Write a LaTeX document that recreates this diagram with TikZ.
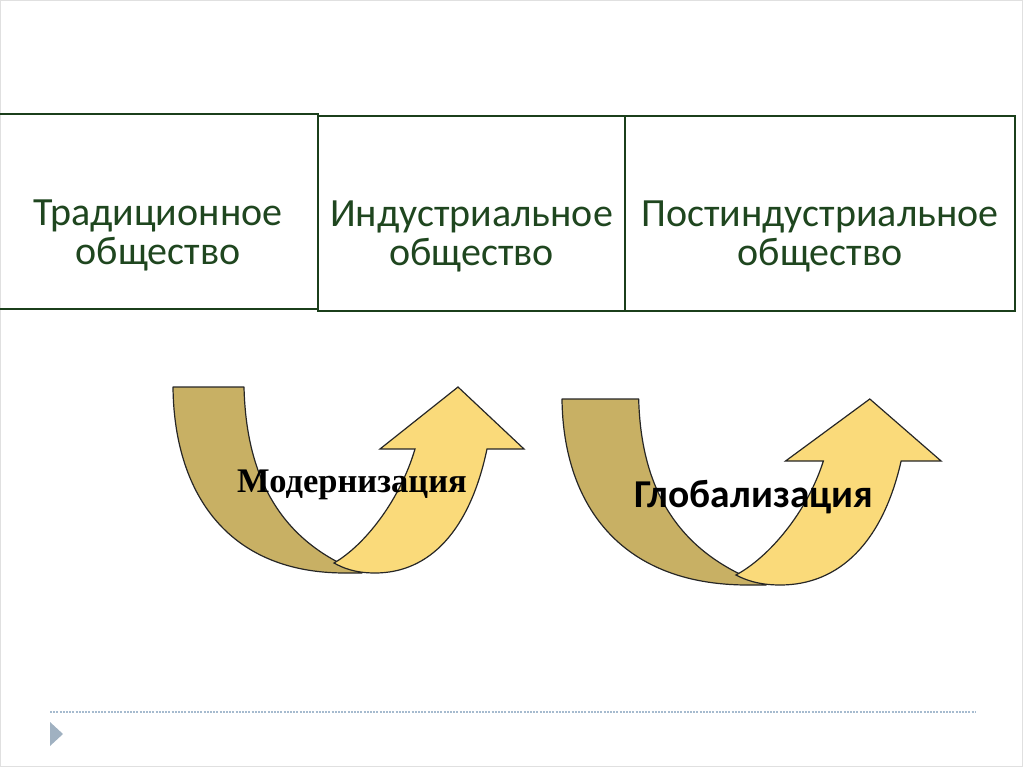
\documentclass[tikz,border=0pt]{standalone}
\usepackage{fontspec}
\setmainfont{Carlito}
\newfontfamily\timesfont{Liberation Serif}
\definecolor{boxgreen}{HTML}{1B3F1B}
\definecolor{textgreen}{HTML}{1F461F}
\definecolor{darktan}{HTML}{C8B064}
\definecolor{lighttan}{HTML}{FADA7A}
\definecolor{footblue}{HTML}{A6BBCF}
\begin{document}
\begin{tikzpicture}[x=1pt, y=-1pt]
  \tikzset{
    box_node/.style={rectangle, draw=boxgreen, line width=2.6pt, inner sep=0pt},
    text_node/.style={align=center, text=textgreen, font=\fontsize{40}{39}\selectfont, inner sep=0pt},
    dark_band/.style={fill=darktan, draw=black!85, line width=1.2pt, line join=round},
    light_band/.style={fill=lighttan, draw=black!85, line width=1.2pt, line join=miter},
    curved_arrow/.pic={
      % dark back part
      \filldraw[dark_band] (0,0) -- (71,0) .. controls (73,83) and (102,153) .. (189,186)
        -- (172,186) .. controls (52,186) and (1,103) .. (0,0) -- cycle;
      % light front part with the head
      \filldraw[light_band] (161,176) .. controls (192,158) and (227,113) .. (242,62)
        -- (207,62) -- (285,0) -- (351,62) -- (314,62)
        .. controls (297,143) and (257,186) .. (202,186)
        .. controls (182,186) and (170,181) .. (161,176) -- cycle;
    }
  }
  \useasboundingbox (0,0) rectangle (1024,767);
  \draw[black!12, line width=0.8pt] (0.5,0.5) rectangle (1022,766);

  % Boxes
  \node[box_node, minimum width=326pt, minimum height=195pt] (trad) at (155,211.5) {};
  \node[box_node, minimum width=307pt, minimum height=195pt] (ind) at (471.5,213.5) {};
  \node[box_node, minimum width=390pt, minimum height=195pt] (post) at (820,213.5) {};

  % Box labels
  \node[text_node] (trad_txt) at ([yshift=-24pt]trad.center -| 158,0) {Традиционное\\общество};
  \node[text_node] (ind_txt) at ([yshift=-23pt]ind.center) {Индустриальное\\общество};
  \node[text_node] (post_txt) at ([yshift=-23pt]post.center) {Постиндустриальное\\общество};

  % Arrows
  \pic at (173,387) {curved_arrow};
  \pic[xscale=1.08] at (562,399) {curved_arrow};

  \node[font=\timesfont\bfseries\fontsize{34.5}{37}\selectfont] (modern) at (352,485) {Модернизация};
  \node[font=\bfseries\fontsize{39.5}{42}\selectfont] (global) at (754,497) {Глобализация};

  % Footer
  \coordinate (foot_l) at (50,712);
  \coordinate (foot_r) at (975,712);
  \draw[footblue, line width=1.6pt, dash pattern=on 2pt off 1.2pt] (foot_l) -- (foot_r);
  \fill[footblue!90!black!90] (50,722) -- (63,734) -- (50,746) -- cycle;
\end{tikzpicture}
\end{document}
